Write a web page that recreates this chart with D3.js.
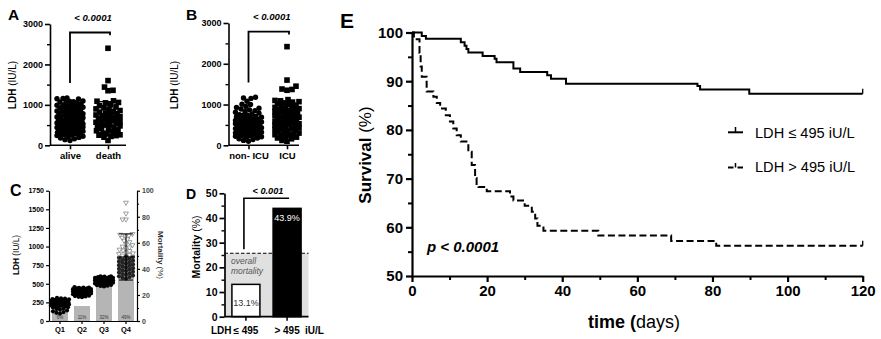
<!DOCTYPE html>
<html><head><meta charset="utf-8">
<script src="https://cdn.jsdelivr.net/npm/d3@7"></script>
<style>body{margin:0;background:#fff}svg{display:block}text{font-family:"Liberation Sans",Arial,sans-serif}</style>
</head><body>
<svg id="chart" width="881" height="339"></svg>
<script>
// ---------------- DATA ----------------
const groupsA = ["alive", "death"];
const aliveLDH = [1170,1160,1150,1145,1095,1090,1080,1075,1070,1040,1030,1010,1000,990,975,960,950,940,925,910,900,890,880,865,850,840,830,815,800,790,780,770,760,745,730,720,710,700,690,680,665,655,650,640,630,620,610,605,600,590,580,570,560,555,550,540,530,520,510,505,500,490,480,470,460,455,450,440,430,420,410,405,400,390,380,370,360,355,350,340,330,320,310,300,290,280,265,250,240,225,210,195,180,160,140,120];
const deathLDH = [2400,1600,1440,1360,1350,1100,1090,1060,1050,1000,980,950,930,900,880,860,840,820,800,780,770,750,730,710,700,690,670,660,650,630,620,600,580,570,550,530,510,500,480,460,440,420,400,380,360,330,300,280,260,250,240,220,200,120];
const groupsB = ["non- ICU", "ICU"];
const nonIcuLDH = [1180,1160,1150,1080,1010,1000,950,930,910,890,870,850,830,810,790,770,750,740,730,710,700,690,670,660,650,640,620,610,600,590,580,570,560,550,540,530,520,510,500,490,480,470,460,450,440,430,420,410,400,390,380,370,360,350,340,330,320,310,300,290,280,270,260,250,240,230,220,210,200,180,160,140,120,100];
const icuLDH = [2420,1600,1450,1380,1370,1350,1120,1100,1090,1070,1060,1040,1020,1000,980,960,950,930,910,900,880,860,850,830,820,800,790,770,760,740,730,720,700,690,680,660,650,640,620,610,600,580,570,560,540,530,520,500,490,480,460,450,430,420,400,390,370,350,330,310,300,280,260,250,240,220,200,180,160,120,100];
const meanSdA = [[560, 250], [700, 380]];
const meanSdB = [[520, 230], [700, 330]];
const pA = "< 0.0001", pB = "< 0.0001";
const ldhTicks = [0, 1000, 2000, 3000], ldhMinor = [500, 1500, 2500];

const quartiles = ["Q1", "Q2", "Q3", "Q4"];
const quartileMortality = [6, 11, 32, 49];
const quartileLabels = ["6%", "11%", "32%", "49%"];
const q1LDH = [310,305,300,295,290,285,280,278,275,270,265,260,258,255,250,248,245,240,238,235,230,228,225,220,215,210,205,200,195,190,185,180,170,160,150,140,130,120,110,100];
const q2LDH = [455,450,448,445,440,438,435,430,428,425,420,418,415,410,405,400,398,395,390,388,385,380,378,375,370,365,360,355,350,345,340,335,330,325,320];
const q3LDH = [600,598,595,590,588,585,580,578,575,570,565,560,558,555,550,548,545,540,538,535,530,525,520,515,510,505,500,495,490,485,480,475,470,465];
const q4LDH = [1590,1445,1365,1365,1170,1160,1150,1140,1120,1100,1080,1060,1040,1020,1000,990,980,960,950,940,920,910,900,890,880,870,860,850,840,830,820,810,800,790,780,770,760,750,740,730,720,710,700,690,680,670,660,650,640,630,620,610,600,590,580,570];
const q4MeanSd = [860, 310];
const cLdhTicks = [0,250,500,750,1000,1250,1500,1750];
const cMortTicks = [0,20,40,60,80,100];

const groupsD = ["≤ 495", "> 495"];
const mortalityD = [13.1, 43.9];
const mortalityDLabels = ["13.1%", "43.9%"];
const overallMortality = 25.7;
const pD = "< 0.001";
const dTicks = [0,10,20,30,40,50], dMinor = [5,15,25,35,45];

const survTimesLow = [0,2.6,3.7,13,14,14.5,15,18.8,22,22.5,27,28.8,36,37,41,76,76.7,89.8];
const survLow =      [100,99.3,98.7,98.0,97.3,96.6,95.9,95.2,94.6,93.9,92.6,91.9,91.2,90.5,89.5,89.0,88.3,87.4];
const survTimesHigh = [0,0.5,2.0,2.3,2.6,3.9,5.7,6.6,7.5,9,10.1,11,11.9,13,15,15.9,16.8,17.2,17.7,19.9,26.1,27,30,31.9,32.8,33.4,35,49.6,69,81];
const survHigh =      [100,98.6,95.8,93.0,90.9,87.9,86.8,85.5,84.4,83.0,81.7,80.3,78.9,77.6,75.5,72.8,70.1,68.7,68.3,67.4,66.3,65.5,64.4,63.2,61.8,60.3,59.3,58.3,57.2,56.2];
const followUp = 120;
const legendLabels = ["LDH ≤ 495 iU/L", "LDH > 495 iU/L"];
const survTicks = [50,60,70,80,90,100], survMinor = [55,65,75,85,95];
const timeTicks = [0,20,40,60,80,100,120], timeMinor = [10,30,50,70,90,110];
const pE = "p < 0.0001";

// ---------------- HELPERS ----------------
const svg = d3.select("#chart");
svg.append("rect").attr("width", 881).attr("height", 339).attr("fill", "#fff");
const FONT = '"Liberation Sans", Arial, sans-serif';
const fmt = d3.format("d");

function styleAxis(g, sw, fs, color) {
  g.attr("font-family", FONT);
  g.selectAll("path.domain").attr("stroke", "#000").attr("stroke-width", sw);
  g.selectAll(".tick line").attr("stroke", "#000").attr("stroke-width", sw);
  g.selectAll(".tick text").attr("font-size", fs).attr("font-weight", "bold").attr("fill", color || "#000");
}
function minorTicks(g, axisGen, sw) {
  g.call(axisGen.tickFormat(""));
  g.select("path.domain").remove();
  g.selectAll(".tick line").attr("stroke", "#000").attr("stroke-width", sw);
}
function title(x, y, rot, parts, fs) {
  const t = svg.append("text").attr("transform", `translate(${x},${y}) rotate(${rot})`)
    .attr("text-anchor", "middle").attr("font-size", fs).attr("fill", "#000");
  parts.forEach(([s, w]) => t.append("tspan").attr("font-weight", w).text(s));
  return t;
}
function label(x, y, s, fs, opts = {}) {
  return svg.append("text").attr("x", x).attr("y", y).attr("font-size", fs)
    .attr("font-weight", opts.w || "bold").attr("font-style", opts.i ? "italic" : "normal")
    .attr("text-anchor", opts.a || "start").attr("fill", opts.c || "#000").text(s);
}
// simple dodge (beeswarm) layout along x
function swarm(values, y, cx, d, cap) {
  const pts = values.map(v => ({ v, y: y(v) })).sort((a, b) => a.v - b.v);
  const placed = [];
  pts.forEach((p, i) => {
    const cands = [0];
    for (let o = 0.5; o <= cap; o += 0.5) { if (i % 2) cands.push(-o, o); else cands.push(o, -o); }
    let best = 0, bestScore = -1;
    for (const o of cands) {
      let minD = Infinity;
      for (const q of placed) {
        const dy = q.y - p.y; if (Math.abs(dy) >= d) continue;
        const dd = Math.hypot(q.x - (cx + o), dy); if (dd < minD) minD = dd;
      }
      if (minD >= d) { best = o; bestScore = Infinity; break; }
      if (minD > bestScore) { bestScore = minD; best = o; }
    }
    p.x = cx + best; placed.push(p);
  });
  return placed;
}
function dots(pts, r, fill) {
  svg.append("g").selectAll("circle").data(pts).join("circle")
    .attr("cx", d => d.x).attr("cy", d => d.y).attr("r", r).attr("fill", fill || "#000");
}
function squares(pts, s) {
  svg.append("g").selectAll("rect").data(pts).join("rect")
    .attr("x", d => d.x - s / 2).attr("y", d => d.y - s / 2).attr("width", s).attr("height", s).attr("fill", "#000");
}
function errBar(cx, y, mean, sd, w, sw) {
  const g = svg.append("g").attr("stroke", "#000").attr("stroke-width", sw);
  g.append("line").attr("x1", cx).attr("x2", cx).attr("y1", y(mean - sd)).attr("y2", y(mean + sd));
  [mean - sd, mean, mean + sd].forEach(v => g.append("line").attr("x1", cx - w).attr("x2", cx + w).attr("y1", y(v)).attr("y2", y(v)));
}
function bracket(x1, x2, yTop, yLeft, yRight, sw) {
  svg.append("path").attr("d", `M${x1},${yLeft}V${yTop}H${x2}V${yRight}`)
    .attr("fill", "none").attr("stroke", "#000").attr("stroke-width", sw);
}

// ---------------- PANEL A & B ----------------
function scatterPanel(cfg) {
  const y = d3.scaleLinear([0, 3000], cfg.yRange);
  const x = d3.scalePoint(cfg.groups, cfg.centers);
  const gy = svg.append("g").attr("transform", `translate(${cfg.axisX},0)`);
  gy.call(d3.axisLeft(y).tickValues(ldhTicks).tickFormat(fmt).tickSize(5).tickSizeOuter(0).tickPadding(2));
  styleAxis(gy, 1.6, 9);
  minorTicks(svg.append("g").attr("transform", `translate(${cfg.axisX},0)`), d3.axisLeft(y).tickValues(ldhMinor).tickSize(3), 1.4);
  const gx = svg.append("g").attr("transform", `translate(0,${cfg.yRange[0]})`);
  gx.call(d3.axisBottom(x).tickSize(4).tickPadding(3));
  gx.select("path.domain").remove();
  styleAxis(gx, 1.6, 9.5);
  gx.append("line").attr("x1", cfg.axisX).attr("x2", cfg.axisEnd).attr("stroke", "#000").attr("stroke-width", 1.6);
  const p0 = swarm(cfg.v0, y, x(cfg.groups[0]), 4.6, 13);
  dots(p0, 2.7);
  const p1 = swarm(cfg.v1, y, x(cfg.groups[1]), 5.0, 12);
  squares(p1, 5.6);
  errBar(x(cfg.groups[0]), y, cfg.msd[0][0], cfg.msd[0][1], 10, 1.2);
  errBar(x(cfg.groups[1]), y, cfg.msd[1][0], cfg.msd[1][1], 10, 1.2);
  bracket(x(cfg.groups[0]), x(cfg.groups[1]) + 2, y(2790), y(1540), y(2720), 1.8);
  label((x(cfg.groups[0]) + x(cfg.groups[1])) / 2 + 4, y(3070), cfg.p, 9.6, { i: true, a: "middle" });
  label(cfg.letterX, 20, cfg.letter, 15.5);
  title(cfg.titleX, 85, -90, [["LDH ", "bold"], ["(IU/L)", "normal"]], 10);
}
scatterPanel({ groups: groupsA, v0: aliveLDH, v1: deathLDH, msd: meanSdA, yRange: [145.3, 24], centers: [70, 108],
  axisX: 50, axisEnd: 126, p: pA, letter: "A", letterX: 8, titleX: 16 });
scatterPanel({ groups: groupsB, v0: nonIcuLDH, v1: icuLDH, msd: meanSdB, yRange: [145.3, 23], centers: [248.5, 287],
  axisX: 228.5, axisEnd: 299, p: pB, letter: "B", letterX: 186, titleX: 178 });

// ---------------- PANEL C ----------------
{
  const yL = d3.scaleLinear([0, 1750], [321, 190.7]);
  const yR = d3.scaleLinear([0, 100], [321, 190.7]);
  const x = d3.scaleBand(quartiles, [49, 137]).paddingInner(0.32).paddingOuter(0.16);
  svg.append("g").selectAll("rect").data(quartiles).join("rect")
    .attr("x", d => x(d)).attr("width", x.bandwidth())
    .attr("y", (d, i) => yR(quartileMortality[i])).attr("height", (d, i) => yR(0) - yR(quartileMortality[i]))
    .attr("fill", "#b5b5b5").attr("stroke", "#9a9a9a").attr("stroke-width", 0.6);
  svg.append("g").selectAll("text").data(quartileLabels).join("text")
    .attr("x", (d, i) => x(quartiles[i]) + x.bandwidth() / 2).attr("y", yR(1.5))
    .attr("text-anchor", "middle").attr("font-size", 4.5).attr("fill", "#333").attr("font-family", FONT).text(d => d);
  const groups = [q1LDH, q2LDH, q3LDH];
  groups.forEach((vals, i) => dots(swarm(vals, yL, x(quartiles[i]) + x.bandwidth() / 2, 3.4, 9), 2.1));
  const c4 = x("Q4") + x.bandwidth() / 2;
  const p4 = swarm(q4LDH, yL, c4, 3.4, 8);
  dots(p4.filter(p => p.v < 880), 2.1, "#222");
  const tri = d3.symbol().type(d3.symbolTriangle).size(10);
  svg.append("g").selectAll("path").data(p4.filter(p => p.v >= 880)).join("path")
    .attr("d", tri).attr("transform", d => `translate(${d.x},${d.y}) rotate(180)`)
    .attr("fill", "#fff").attr("stroke", "#777").attr("stroke-width", 0.7);
  errBar(c4, yL, q4MeanSd[0], q4MeanSd[1], 7, 1);
  const gl = svg.append("g").attr("transform", "translate(49,0)");
  gl.call(d3.axisLeft(yL).tickValues(cLdhTicks).tickFormat(fmt).tickSize(3).tickSizeOuter(0).tickPadding(2));
  styleAxis(gl, 1.2, 7);
  const gr = svg.append("g").attr("transform", "translate(137,0)");
  gr.call(d3.axisRight(yR).tickValues(cMortTicks).tickFormat(fmt).tickSize(3).tickSizeOuter(0).tickPadding(2));
  styleAxis(gr, 1.2, 7, "#444");
  minorTicks(svg.append("g").attr("transform", "translate(137,0)"), d3.axisRight(yR).tickValues([10,30,50,70,90]).tickSize(2), 1);
  const gx = svg.append("g").attr("transform", "translate(0,321)");
  gx.call(d3.axisBottom(x).tickSize(3).tickPadding(3).tickSizeOuter(0));
  styleAxis(gx, 1.2, 7.5);
  label(10, 196, "C", 16);
  title(19, 255, -90, [["LDH ", "bold"], ["(IU/L)", "normal"]], 8.3);
  title(158, 255, 90, [["Mortality ", "bold"], ["(%)", "normal"]], 8).attr("fill", "#333");
}

// ---------------- PANEL D ----------------
{
  const y = d3.scaleLinear([0, 50], [316.7, 193.3]);
  const x = d3.scaleBand(groupsD, [224.5, 308.5]).paddingInner(0.32).paddingOuter(0.18);
  svg.append("rect").attr("x", 224.5).attr("width", 84).attr("y", y(overallMortality))
    .attr("height", y(0) - y(overallMortality)).attr("fill", "#e0e0e0");
  svg.append("g").selectAll("rect").data(groupsD).join("rect")
    .attr("x", d => x(d)).attr("width", x.bandwidth())
    .attr("y", (d, i) => y(mortalityD[i])).attr("height", (d, i) => y(0) - y(mortalityD[i]))
    .attr("fill", (d, i) => i ? "#000" : "#fff").attr("stroke", "#000").attr("stroke-width", 1.5);
  svg.append("line").attr("x1", 224.5).attr("x2", 308.5).attr("y1", y(overallMortality)).attr("y2", y(overallMortality))
    .attr("stroke", "#000").attr("stroke-width", 1.2).attr("stroke-dasharray", "3.5,2");
  const cx = d => x(d) + x.bandwidth() / 2;
  label(cx(groupsD[0]), y(4.3), mortalityDLabels[0], 9, { w: "normal", a: "middle", c: "#333" });
  label(cx(groupsD[1]), y(38.6), mortalityDLabels[1], 9, { w: "normal", a: "middle", c: "#fff" });
  label(231, 263.5, "overall", 8.5, { w: "normal", i: true, c: "#555" });
  label(231, 273.5, "mortality", 8.5, { w: "normal", i: true, c: "#555" });
  bracket(cx(groupsD[0]) - 2, cx(groupsD[1]) + 2, y(48), y(27.3), y(48), 1.6);
  label(268, 193.5, pD, 9.2, { i: true, a: "middle" });
  const gy = svg.append("g").attr("transform", "translate(224.5,0)");
  gy.call(d3.axisLeft(y).tickValues(dTicks).tickFormat(fmt).tickSize(5).tickSizeOuter(0).tickPadding(2));
  styleAxis(gy, 1.7, 10.5);
  minorTicks(svg.append("g").attr("transform", "translate(224.5,0)"), d3.axisLeft(y).tickValues(dMinor).tickSize(3), 1.4);
  svg.append("line").attr("x1", 224.5).attr("x2", 308.5).attr("y1", y(0)).attr("y2", y(0)).attr("stroke", "#000").attr("stroke-width", 1.7);
  groupsD.forEach(g => svg.append("line").attr("x1", cx(g)).attr("x2", cx(g)).attr("y1", y(0)).attr("y2", y(0) + 4).attr("stroke", "#000").attr("stroke-width", 1.5));
  label(211, 333.5, "LDH", 10);
  groupsD.forEach(g => label(cx(g), 333.5, g, 10, { a: "middle" }));
  label(305, 333.5, "iU/L", 10);
  label(186, 199, "D", 14);
  title(200, 247, -90, [["Mortality ", "bold"], ["(%)", "normal"]], 10.5);
}

// ---------------- PANEL E ----------------
{
  const x = d3.scaleLinear([0, 120], [412, 862.7]);
  const y = d3.scaleLinear([50, 100], [276, 32.5]);
  const line = d3.line().x(d => x(d[0])).y(d => y(d[1])).curve(d3.curveStepAfter);
  const low = survTimesLow.map((t, i) => [t, survLow[i]]); low.push([followUp, survLow[survLow.length - 1]]);
  const high = survTimesHigh.map((t, i) => [t, survHigh[i]]); high.push([followUp, survHigh[survHigh.length - 1]]);
  svg.append("path").attr("d", line(high)).attr("fill", "none").attr("stroke", "#000").attr("stroke-width", 2)
    .attr("stroke-dasharray", "7,3.5");
  svg.append("path").attr("d", line(low)).attr("fill", "none").attr("stroke", "#000").attr("stroke-width", 2);
  [[followUp, survLow[survLow.length - 1]], [followUp, survHigh[survHigh.length - 1]]].forEach(d =>
    svg.append("line").attr("x1", x(d[0])).attr("x2", x(d[0])).attr("y1", y(d[1])).attr("y2", y(d[1]) - 5)
      .attr("stroke", "#000").attr("stroke-width", 1.3));
  const gy = svg.append("g").attr("transform", `translate(${x(0)},0)`);
  gy.call(d3.axisLeft(y).tickValues(survTicks).tickFormat(fmt).tickSize(6).tickSizeOuter(0).tickPadding(3));
  styleAxis(gy, 2.2, 15);
  minorTicks(svg.append("g").attr("transform", `translate(${x(0)},0)`), d3.axisLeft(y).tickValues(survMinor).tickSize(4), 2);
  const gx = svg.append("g").attr("transform", `translate(0,${y(50)})`);
  gx.call(d3.axisBottom(x).tickValues(timeTicks).tickFormat(fmt).tickSize(6).tickSizeOuter(0).tickPadding(3));
  styleAxis(gx, 2.2, 15);
  minorTicks(svg.append("g").attr("transform", `translate(0,${y(50)})`), d3.axisBottom(x).tickValues(timeMinor).tickSize(4), 2);
  const lg = svg.append("g").attr("stroke", "#000").attr("stroke-width", 2);
  lg.append("line").attr("x1", 728).attr("x2", 743).attr("y1", 132.3).attr("y2", 132.3);
  lg.append("line").attr("x1", 735.5).attr("x2", 735.5).attr("y1", 132.3).attr("y2", 127).attr("stroke-width", 1.5);
  lg.append("line").attr("x1", 728).attr("x2", 733.5).attr("y1", 167.5).attr("y2", 167.5);
  lg.append("line").attr("x1", 737.5).attr("x2", 743).attr("y1", 167.5).attr("y2", 167.5);
  lg.append("line").attr("x1", 735.5).attr("x2", 735.5).attr("y1", 167.5).attr("y2", 163).attr("stroke-width", 1.5);
  legendLabels.forEach((s, i) => label(755, 137.5 + i * 34.8, s, 14.6, { w: "normal" }));
  label(427, 252, pE, 15, { i: true });
  label(340, 28, "E", 21);
  title(371, 155, -90, [["Survival ", "bold"], ["(%)", "normal"]], 17);
  const tt = svg.append("text").attr("x", 634).attr("y", 328).attr("text-anchor", "middle").attr("font-size", 18);
  tt.append("tspan").attr("font-weight", "bold").text("time (");
  tt.append("tspan").attr("font-weight", "normal").text("days)");
}
</script>
</body></html>
